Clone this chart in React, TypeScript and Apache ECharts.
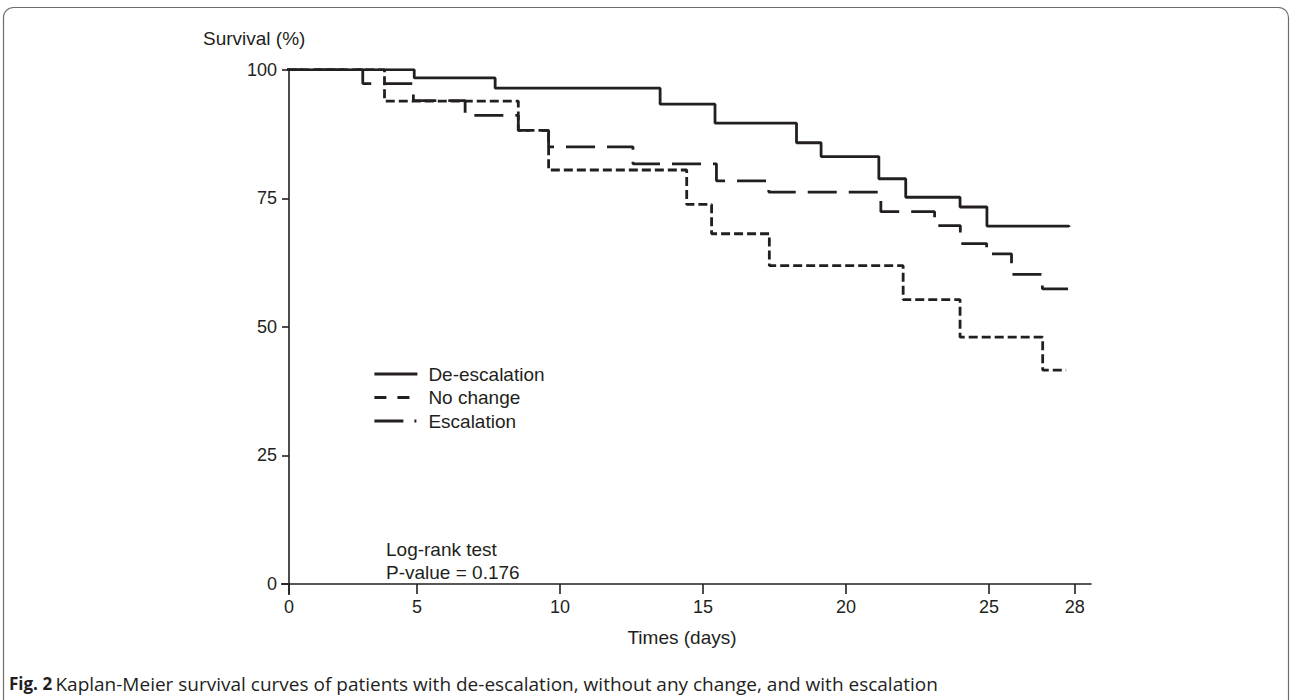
import React, { useEffect, useRef } from "react";
import * as echarts from "echarts";

// ---- data ----
const xTicks = [0, 5, 10, 15, 20, 25, 28];
const yTicks = [0, 25, 50, 75, 100];
const seriesNames = ["De-escalation", "No change", "Escalation"];

const deescDays = [0, 4.9, 7.73, 13.5, 15.42, 18.27, 19.13, 21.15, 22.09, 23.99, 24.93, 27.8];
const deescSurv = [100, 98.4, 96.4, 93.3, 89.6, 85.8, 83.1, 78.8, 75.2, 73.3, 69.6, 69.4];

const nochDays = [0, 3.86, 8.54, 9.6, 14.43, 15.3, 17.32, 22.0, 23.99, 26.88, 27.7];
const nochSurv = [100, 93.9, 88.2, 80.5, 73.8, 68.1, 61.9, 55.3, 48.0, 41.6, 41.6];

const escDays = [0, 3.1, 4.87, 6.68, 8.54, 9.6, 12.55, 15.47, 17.3, 21.22, 23.1, 24.0, 24.92, 25.79, 26.87, 27.94];
const escSurv = [100, 97.3, 94.0, 91.1, 88.2, 85.0, 81.7, 78.4, 76.2, 72.4, 69.7, 66.2, 64.2, 60.2, 57.4, 57.4];

const testLines = ["Log-rank test", "P-value = 0.176"];
const captionBold = "Fig. 2";
const captionText = "Kaplan-Meier survival curves of patients with de-escalation, without any change, and with escalation";

// axis window (the drawn y-axis sits slightly right of day 0 in the reference)
const X_MIN = 0.52;
const X_MAX = 28.57;

const INK = "#231f20";
const FONT = "'Liberation Sans', Arial, Helvetica, sans-serif";
const CAP_FONT = "'Open Sans', sans-serif";

const zip = (xs: number[], ys: number[]) => xs.map((x, i) => [x, ys[i]]);

export default function App() {
  const ref = useRef<HTMLDivElement>(null);

  useEffect(() => {
    document.body.style.margin = "0";
    if (!ref.current) return;
    const chart = echarts.init(ref.current, undefined, { renderer: "svg" });

    const tickPos = xTicks.map((v) => Math.max(v, X_MIN));

    const lineBase = {
      type: "line",
      step: "end",
      symbol: "none",
      showSymbol: false,
      clip: true,
      silent: true,
      color: INK,
      itemStyle: { color: INK },
    };

    chart.setOption({
      animation: false,
      backgroundColor: "#ffffff",
      color: [INK, INK, INK],
      textStyle: { fontFamily: FONT, color: INK },
      grid: { left: 289, right: 201, top: 69.7, bottom: 116, containLabel: false },
      xAxis: {
        type: "value",
        min: X_MIN,
        max: X_MAX,
        name: "Times (days)",
        nameLocation: "middle",
        nameGap: 44,
        nameTextStyle: { fontSize: 19, color: INK, fontFamily: FONT, padding: [0, 16, 0, 0] },
        axisLine: { show: true, onZero: false, lineStyle: { color: INK, width: 1.6 } },
        axisTick: { show: true, length: 10, customValues: tickPos, lineStyle: { color: INK, width: 1.6 } },
        axisLabel: {
          customValues: tickPos,
          margin: 14,
          fontSize: 18,
          color: INK,
          fontFamily: FONT,
          formatter: (v: number) => (v === X_MIN ? String(xTicks[0]) : String(v)),
        },
        splitLine: { show: false },
      },
      yAxis: {
        type: "value",
        min: yTicks[0],
        max: yTicks[yTicks.length - 1],
        interval: 25,
        name: "Survival (%)",
        nameLocation: "end",
        nameGap: 22,
        nameTextStyle: { fontSize: 19, color: INK, fontFamily: FONT, align: "left", padding: [0, 0, 0, -86] },
        axisLine: { show: true, onZero: false, lineStyle: { color: INK, width: 1.6 } },
        axisTick: { show: true, length: 7, lineStyle: { color: INK, width: 1.6 } },
        axisLabel: { margin: 12, fontSize: 18, color: INK, fontFamily: FONT },
        splitLine: { show: false },
      },
      legend: {
        orient: "vertical",
        left: 373,
        top: 364,
        padding: 0,
        itemWidth: 43,
        itemHeight: 14,
        itemGap: 3.5,
        selectedMode: false,
        itemStyle: { opacity: 0, borderWidth: 0 },
        textStyle: { fontSize: 19, color: INK, fontFamily: FONT, lineHeight: 20, padding: [0, 0, 0, 6] },
        data: [
          { name: seriesNames[0], itemStyle: { opacity: 0 }, lineStyle: { type: "solid", width: 2.8, color: INK } },
          { name: seriesNames[1], itemStyle: { opacity: 0 }, lineStyle: { type: [12, 11], width: 2.8, color: INK } },
          { name: seriesNames[2], itemStyle: { opacity: 0 }, lineStyle: { type: [29, 11, 2, 20], width: 2.8, color: INK } },
        ],
      },
      graphic: [
        {
          type: "rect",
          shape: { x: 3.5, y: 7.5, width: 1285, height: 720, r: 10 },
          style: { fill: "none", stroke: "#6d6d6d", lineWidth: 1.2 },
          silent: true,
        },
        { type: "line", shape: { x1: 281, y1: 584, x2: 289, y2: 584 }, style: { stroke: INK, lineWidth: 1.6 } },
        { type: "line", shape: { x1: 289, y1: 584, x2: 289, y2: 595 }, style: { stroke: INK, lineWidth: 1.6 } },
        {
          type: "text",
          left: 386,
          top: 538,
          style: { text: testLines.join("\n"), fontSize: 19, lineHeight: 23, fill: INK, fontFamily: FONT },
        },
        {
          type: "text",
          left: 9,
          top: 674,
          style: {
            text: `{b|${captionBold}} {r|${captionText}}`,
            rich: {
              b: { fontSize: 17, fontWeight: "bold", fill: INK, fontFamily: CAP_FONT },
              r: { fontSize: 19, fill: INK, fontFamily: CAP_FONT },
            },
          },
        },
      ],
      series: [
        {
          ...lineBase,
          name: seriesNames[1],
          data: zip(nochDays, nochSurv),
          lineStyle: { color: INK, width: 2.8, type: [9, 4], cap: "butt" },
          z: 2,
        },
        {
          ...lineBase,
          name: seriesNames[2],
          data: zip(escDays, escSurv),
          lineStyle: { color: INK, width: 2.8, type: [29, 12], cap: "butt" },
          z: 3,
        },
        {
          ...lineBase,
          name: seriesNames[0],
          data: zip(deescDays, deescSurv),
          lineStyle: { color: INK, width: 2.8, type: "solid" },
          z: 4,
        },
      ],
    });

    return () => chart.dispose();
  }, []);

  return <div ref={ref} style={{ width: 1292, height: 700 }} />;
}
